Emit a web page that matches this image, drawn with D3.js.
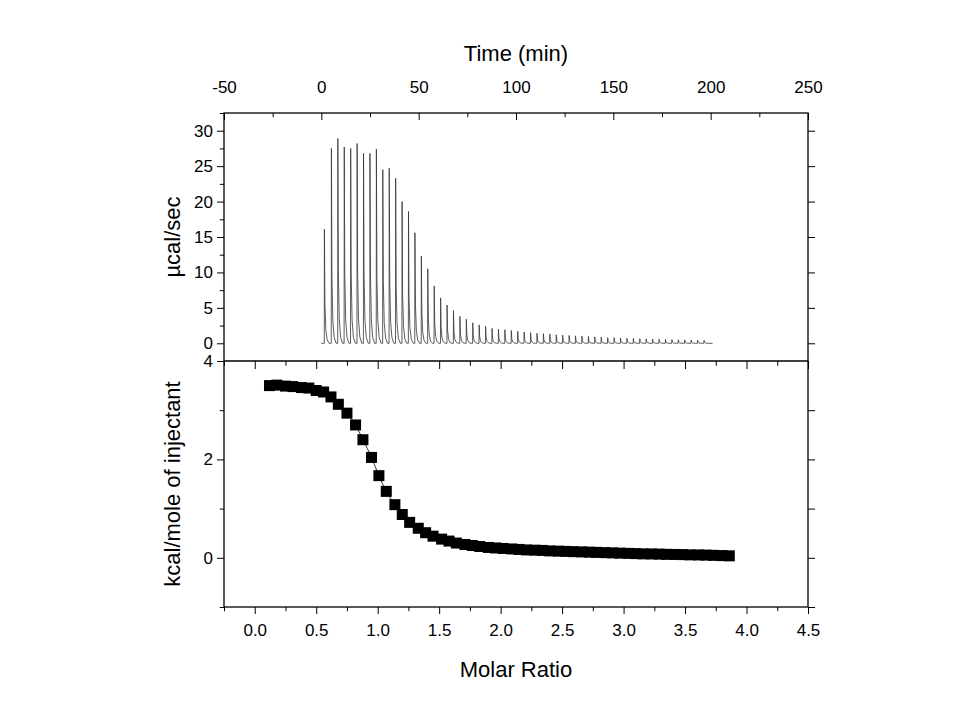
<!DOCTYPE html>
<html><head><meta charset="utf-8">
<script src="https://cdn.jsdelivr.net/npm/d3@7"></script>
<style>body{margin:0;background:#fff}text{font-family:"Liberation Sans",Arial,sans-serif;fill:#000}</style>
</head><body><svg id="c" width="960" height="720"></svg>
<script>
"use strict"

// raw injection peaks: start time (min) and peak height (µcal/sec)
const injTime = [1.5,5.1,8.4,11.7,15.0,18.3,21.6,24.9,28.2,31.5,34.8,38.1,41.4,44.7,48.0,51.3,54.6,57.9,61.2,64.5,
  67.8,71.1,74.4,77.7,81.0,84.3,87.6,90.9,94.2,97.5,100.8,104.1,107.4,110.7,114.0,117.3,120.6,123.9,127.2,130.5,
  133.8,137.1,140.4,143.7,147.0,150.3,153.6,156.9,160.2,163.5,166.8,170.1,173.4,176.7,180.0,183.3,186.6,189.9,193.2,196.5]
const injPeak = [16.1,27.5,28.9,27.7,27.5,28.2,26.8,26.8,27.4,24.5,24.7,23.3,20.0,18.6,15.6,12.3,10.5,8.1,6.4,5.4,
  4.6,3.8,3.4,2.9,2.6,2.4,2.1,2.0,1.9,1.8,1.7,1.6,1.5,1.4,1.35,1.3,1.2,1.15,1.1,1.05,
  1.0,0.95,0.9,0.85,0.8,0.78,0.75,0.7,0.68,0.65,0.62,0.6,0.57,0.55,0.52,0.5,0.48,0.46,0.44,0.42]

// integrated heats
const molarRatio = [0.12,0.18,0.25,0.31,0.38,0.44,0.50,0.56,0.62,0.68,0.75,0.82,0.88,0.95,1.01,1.07,1.14,1.20,1.26,1.33,
  1.39,1.45,1.52,1.58,1.64,1.71,1.77,1.83,1.90,1.96,2.02,2.09,2.15,2.21,2.28,2.34,2.40,2.47,2.53,2.59,
  2.66,2.72,2.78,2.85,2.91,2.97,3.04,3.10,3.16,3.23,3.29,3.35,3.42,3.48,3.54,3.61,3.67,3.73,3.80,3.86]
const heat = [3.50,3.51,3.49,3.48,3.46,3.45,3.40,3.37,3.27,3.12,2.94,2.70,2.40,2.04,1.67,1.35,1.08,0.88,0.72,0.60,
  0.51,0.44,0.38,0.34,0.30,0.27,0.25,0.23,0.21,0.20,0.19,0.18,0.17,0.16,0.155,0.15,0.14,0.135,0.13,0.125,
  0.12,0.115,0.11,0.105,0.10,0.095,0.09,0.085,0.08,0.078,0.075,0.07,0.068,0.065,0.06,0.058,0.055,0.05,0.045,0.04]

const svg = d3.select('#c')
const L = 224, R = 808, T1 = 113, B1 = 361, B2 = 607

const xt = d3.scaleLinear().domain([-50, 250]).range([L, R])
const yt = d3.scaleLinear().domain([-2.5, 32.5]).range([B1, T1])
const xm = d3.scaleLinear().domain([-0.25, 4.5]).range([L, R])
const ym = d3.scaleLinear().domain([-1, 4]).range([B2, B1])

const intFmt = d => String(d)

function ticks(g, axis, minor, scale, tick) {
  g.call(axis(scale).tickValues(minor).tickSize(tick * 0.6).tickFormat(''))
  g.selectAll('path').remove()
}
function axisGroup(tr) { return svg.append('g').attr('transform', tr) }

// top panel axes
const tx = axisGroup(`translate(0,${T1})`)
tx.call(d3.axisTop(xt).tickValues(d3.range(-50, 251, 50)).tickSize(-7).tickPadding(20).tickFormat(intFmt))
tx.select('path').remove()
ticks(axisGroup(`translate(0,${T1})`), d3.axisTop, d3.range(-25, 250, 50), xt, -7)
const ty = axisGroup(`translate(${L},0)`)
ty.call(d3.axisLeft(yt).tickValues(d3.range(0, 31, 5)).tickSize(7).tickPadding(4).tickFormat(intFmt))
ty.select('path').remove()
ticks(axisGroup(`translate(${L},0)`), d3.axisLeft, d3.range(-2.5, 33, 5), yt, 7)
const tyr = axisGroup(`translate(${R},0)`)
tyr.call(d3.axisLeft(yt).tickValues(d3.range(0, 31, 5)).tickSize(-7).tickFormat(''))
tyr.select('path').remove()

// bottom panel axes
const bx = axisGroup(`translate(0,${B2})`)
bx.call(d3.axisBottom(xm).tickValues(d3.range(0, 4.51, 0.5)).tickSize(7).tickPadding(10).tickFormat(d3.format('.1f')))
bx.select('path').remove()
ticks(axisGroup(`translate(0,${B2})`), d3.axisBottom, d3.range(-0.25, 4.5, 0.5), xm, 7)
const bxt = axisGroup(`translate(0,${B1})`)
bxt.call(d3.axisTop(xm).tickValues(d3.range(0, 4.51, 0.5)).tickSize(-8).tickFormat(''))
bxt.select('path').remove()
ticks(axisGroup(`translate(0,${B1})`), d3.axisTop, d3.range(-0.25, 4.5, 0.5), xm, -8)
const by = axisGroup(`translate(${L},0)`)
by.call(d3.axisLeft(ym).tickValues([0, 2, 4]).tickSize(7).tickPadding(4).tickFormat(intFmt))
by.select('path').remove()
ticks(axisGroup(`translate(${L},0)`), d3.axisLeft, [-1, 1, 3], ym, 7)
const byr = axisGroup(`translate(${R},0)`)
byr.call(d3.axisLeft(ym).tickValues([-1, 0, 1, 2, 3]).tickSize(-7).tickFormat(''))
byr.select('path').remove()

svg.selectAll('.tick text').style('font-size', '17px').style('font-family', '"Liberation Sans",Arial,sans-serif')
svg.selectAll('.tick line').attr('stroke', '#000')

// frames
svg.append('rect').attr('x', L).attr('y', T1).attr('width', R - L).attr('height', B2 - T1)
  .attr('fill', 'none').attr('stroke', '#000').attr('stroke-width', 1.3)
svg.append('line').attr('x1', L).attr('x2', R).attr('y1', B1).attr('y2', B1).attr('stroke', '#000').attr('stroke-width', 1.3)

// raw thermogram
const pts = [[0, 0]]
injTime.forEach((t, i) => {
  const h = injPeak[i]
  pts.push([t, 0], [t + 0.08, h], [t + 0.35, h * 0.35], [t + 0.8, h * 0.12], [t + 1.5, h * 0.03], [t + 2.5, 0])
})
pts.push([201, 0])
svg.append('path').datum(pts)
  .attr('d', d3.line().x(d => xt(d[0])).y(d => yt(d[1])))
  .attr('fill', 'none').attr('stroke', '#333').attr('stroke-width', 0.8)

// integrated heats with fit line
const hd = molarRatio.map((x, i) => [x, heat[i]])
svg.append('path').datum(hd)
  .attr('d', d3.line().curve(d3.curveMonotoneX).x(d => xm(d[0])).y(d => ym(d[1])))
  .attr('fill', 'none').attr('stroke', '#000').attr('stroke-width', 0.8)
svg.append('g').selectAll('rect').data(hd).join('rect')
  .attr('x', d => xm(d[0]) - 5.5).attr('y', d => ym(d[1]) - 5.5)
  .attr('width', 11).attr('height', 11).attr('fill', '#000')

// titles
svg.append('text').attr('x', 516).attr('y', 61).attr('text-anchor', 'middle').style('font-size', '22px').text('Time (min)')
svg.append('text').attr('x', 516).attr('y', 677).attr('text-anchor', 'middle').style('font-size', '22px').text('Molar Ratio')
svg.append('text').attr('transform', 'translate(180,237) rotate(-90)').attr('text-anchor', 'middle').style('font-size', '22px').text('µcal/sec')
svg.append('text').attr('transform', 'translate(180,484) rotate(-90)').attr('text-anchor', 'middle').style('font-size', '22px').text('kcal/mole of injectant')
</script></body></html>
